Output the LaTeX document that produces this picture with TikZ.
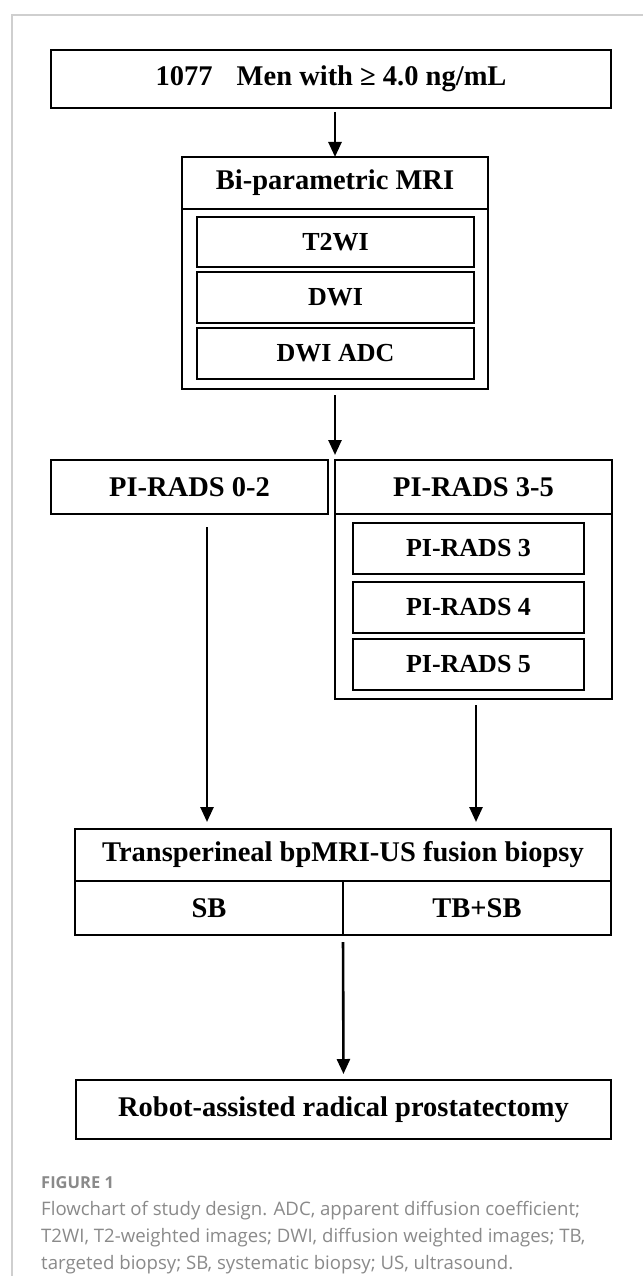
\documentclass[tikz,border=0pt]{standalone}
\usepackage{fontspec}
\setmainfont{Liberation Serif}
\newfontfamily\capfont{Open Sans}
\usetikzlibrary{arrows.meta}
\definecolor{framegray}{HTML}{CFCFCF}
\definecolor{capgray}{HTML}{8A8A8A}
\begin{document}
\begin{tikzpicture}[x=1pt,y=-1pt,
  bx/.style={draw, line width=2.5pt, inner sep=0pt, outer sep=0pt,
    font=\bfseries\fontsize{28.5}{29}\selectfont},
  ibx/.style={bx, line width=2.1pt, font=\bfseries\fontsize{26}{26}\selectfont},
  arr/.style={line width=2.6pt, -{Triangle[width=13pt,length=15pt]}},
  capline/.style={anchor=west, inner sep=0pt, text=capgray,
    font=\capfont\fontsize{18.6}{20}\selectfont}
]
\useasboundingbox (0,0) rectangle (643,1276);
\fill[white] (0,0) rectangle (643,1276);
% frame
\draw[framegray, line width=1.4pt] (12,1276) -- (12,15) -- (643,15);

% top box
\node[bx, minimum width=560pt, minimum height=58pt] (n1) at (331,79)
  {1077\hspace{0.6em} Men with ≥ 4.0 ng/mL};

% bi-parametric MRI
\node[bx, minimum width=306pt, minimum height=232pt] (bp) at (335,273) {};
\node[bx, minimum width=306pt, minimum height=52pt] (bph) at (335,183) {Bi-parametric MRI};
\node[ibx, minimum width=277pt, minimum height=50pt] (t2) at (335.5,242) {T2WI};
\node[ibx, minimum width=277pt, minimum height=51pt] (dwi) at (335.5,297.5) {DWI};
\node[ibx, minimum width=277pt, minimum height=51pt] (adc) at (335.5,353.5) {DWI ADC};

% PI-RADS
\node[bx, minimum width=277pt, minimum height=54pt] (p02) at (189.5,487) {PI-RADS 0-2};
\node[bx, minimum width=277pt, minimum height=239pt] (p35) at (473.5,579.5) {};
\node[bx, minimum width=277pt, minimum height=54pt] (p35h) at (473.5,487) {PI-RADS 3-5};
\node[ibx, minimum width=231pt, minimum height=51pt] (p3) at (468.5,548.5) {PI-RADS 3};
\node[ibx, minimum width=231pt, minimum height=51pt] (p4) at (468.5,607.5) {PI-RADS 4};
\node[ibx, minimum width=231pt, minimum height=51pt] (p5) at (468.5,664.5) {PI-RADS 5};

% biopsy
\node[bx, minimum width=536pt, minimum height=106pt] (tp) at (343,882) {};
\node[bx, minimum width=536pt, minimum height=52pt] (tph) at (343,855) {Transperineal bpMRI-US fusion biopsy};
\node[bx, minimum width=268pt, minimum height=54pt] (sb) at (209,908) {SB};
\node[bx, minimum width=268pt, minimum height=54pt] (tbsb) at (477,908) {TB+SB};

% robot
\node[bx, minimum width=535pt, minimum height=59pt] (rob) at (343.5,1109.5) {Robot-assisted radical prostatectomy};

% connectors
\coordinate (a2end) at (335,455);
\coordinate (lend) at (207,822);
\coordinate (rend) at (476,822);
\draw[arr, shorten <=4pt] (bph.north |- n1.south) -- (bph.north);
\draw[arr, shorten <=6pt] (bp.south) -- (a2end);
\draw[arr] (207,527) -- (lend);
\draw[arr, shorten <=6pt] (rend |- p35.south) -- (rend);
\draw[arr, shorten <=7pt, shorten >=6pt] (tp.south) -- (rob.north);

% caption
\node[capline, font=\capfont\bfseries\fontsize{16.5}{18}\selectfont] (fig) at (41,1183) {FIGURE 1};
\node[capline] (c1) at (41,1211) {Flowchart of study design. ADC, apparent diffusion coefficient;};
\node[capline] (c2) at (41,1238) {T2WI, T2-weighted images; DWI, diffusion weighted images; TB,};
\node[capline] (c3) at (41,1265) {targeted biopsy; SB, systematic biopsy; US, ultrasound.};
\end{tikzpicture}
\end{document}
